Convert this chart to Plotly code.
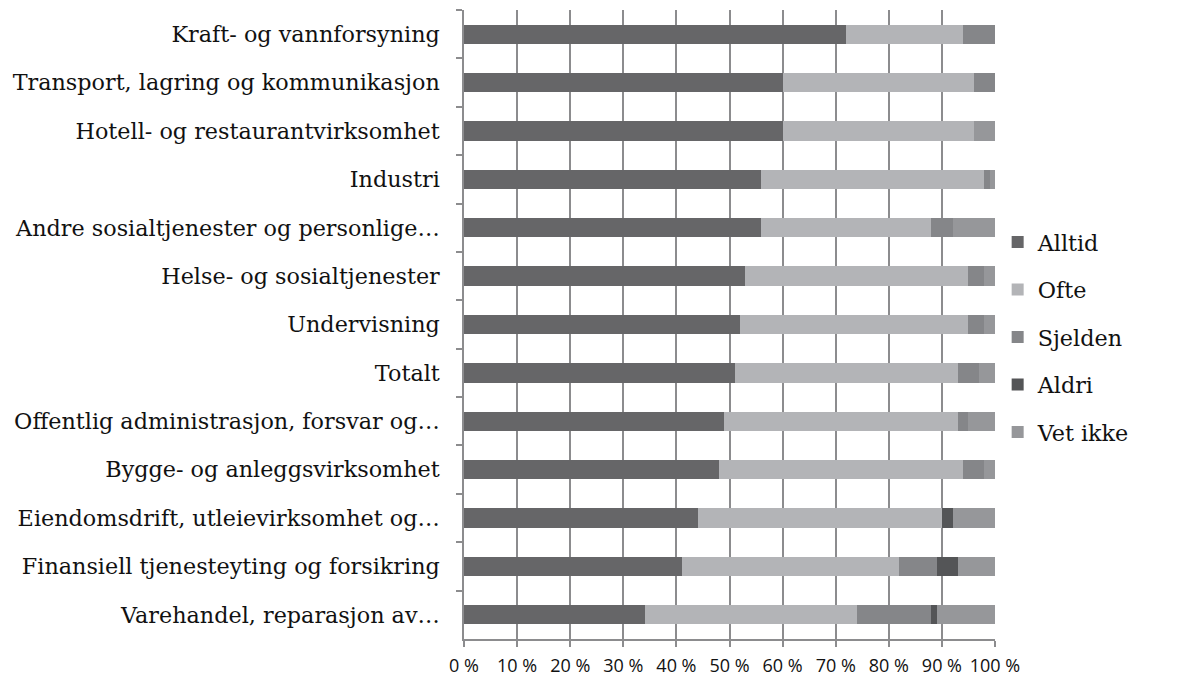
import plotly.graph_objects as go

CATEGORIES = [
    "Kraft- og vannforsyning",
    "Transport, lagring og kommunikasjon",
    "Hotell- og restaurantvirksomhet",
    "Industri",
    "Andre sosialtjenester og personlige…",
    "Helse- og sosialtjenester",
    "Undervisning",
    "Totalt",
    "Offentlig administrasjon, forsvar og…",
    "Bygge- og anleggsvirksomhet",
    "Eiendomsdrift, utleievirksomhet og…",
    "Finansiell tjenesteyting og forsikring",
    "Varehandel, reparasjon av…",
]

ALLTID = [72, 60, 60, 56, 56, 53, 52, 51, 49, 48, 44, 41, 34]
OFTE = [22, 36, 36, 42, 32, 42, 43, 42, 44, 46, 46, 41, 40]
SJELDEN = [6, 4, 0, 1, 4, 3, 3, 4, 2, 4, 0, 7, 14]
ALDRI = [0, 0, 0, 0, 0, 0, 0, 0, 0, 0, 2, 4, 1]
VET_IKKE = [0, 0, 4, 1, 8, 2, 2, 3, 5, 2, 8, 7, 11]

SERIES = [
    ("Alltid", ALLTID, "#666668"),
    ("Ofte", OFTE, "#b3b4b7"),
    ("Sjelden", SJELDEN, "#858689"),
    ("Aldri", ALDRI, "#545557"),
    ("Vet ikke", VET_IKKE, "#96979a"),
]

SERIF = "DejaVu Serif, Liberation Serif, serif"
SANS = "Open Sans, Liberation Sans, sans-serif"
GRID = "#8c8c8e"

fig = go.Figure()
for i, (name, vals, color) in enumerate(SERIES):
    fig.add_trace(go.Bar(
        name=name,
        y=CATEGORIES,
        x=vals,
        orientation="h",
        marker=dict(color=color, line=dict(width=0)),
        legendgroup=f"g{i}",
    ))

fig.update_layout(
    barmode="stack",
    bargap=0.6,
    width=1184,
    height=677,
    margin=dict(l=464, r=189, t=10, b=38),
    paper_bgcolor="white",
    plot_bgcolor="white",
    showlegend=True,
    legend=dict(
        x=1.005, xanchor="left",
        y=0.48, yanchor="middle",
        font=dict(family=SERIF, size=22.3, color="#111"),
        tracegroupgap=15.5,
        itemwidth=30,
        bgcolor="rgba(0,0,0,0)",
    ),
    xaxis=dict(
        range=[0, 100],
        dtick=10,
        ticksuffix=" %",
        showgrid=True,
        gridcolor=GRID,
        gridwidth=1.5,
        showline=True,
        linecolor=GRID,
        linewidth=1.5,
        ticks="outside",
        ticklen=6,
        tickcolor=GRID,
        tickwidth=1.5,
        zeroline=False,
        automargin=False,
        ticklabelstandoff=4,
        tickfont=dict(family=SANS, size=18, color="#111"),
        fixedrange=True,
    ),
    yaxis=dict(
        autorange="reversed",
        showline=True,
        linecolor=GRID,
        linewidth=1.5,
        ticks="outside",
        tickson="boundaries",
        ticklen=6,
        tickcolor=GRID,
        tickwidth=1.5,
        showgrid=False,
        automargin=False,
        ticklabelstandoff=18,
        tickfont=dict(family=SERIF, size=22.3, color="#111"),
        fixedrange=True,
    ),
)

# drop the default 8px body margin so the figure fills the window exactly
fig.write_html(
    "out.html",
    config={"displayModeBar": False},
    post_script="document.body.style.margin = '0';",
)
